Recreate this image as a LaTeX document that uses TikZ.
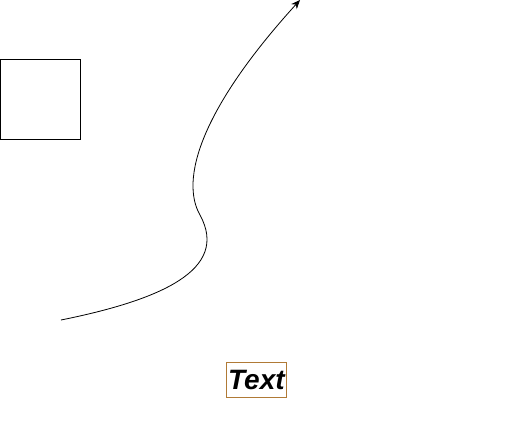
\documentclass[tikz,border=0pt]{standalone}
\usepackage{fontspec}
\setmainfont{Liberation Sans}
\usetikzlibrary{arrows.meta}
\definecolor{boxbrown}{HTML}{B07A36}
\begin{document}
\begin{tikzpicture}[x=1pt,y=-1pt,
  shapebox/.style={draw=black,line width=0.8pt,fill=white},
  textbox/.style={draw=boxbrown,line width=0.8pt,fill=white,inner sep=0pt,minimum width=60pt,minimum height=35pt},
  curveline/.style={draw=black,line width=0.8pt,-{Stealth[length=9pt,width=7.5pt]}}]
\useasboundingbox (0,0) rectangle (511,421);
\node[shapebox,minimum width=80pt,minimum height=80pt,inner sep=0pt,anchor=north west] (sq) at (0,59) {};
\node[textbox,anchor=north west] (txt) at (226,362) {\fontsize{28}{30}\selectfont\bfseries\itshape Text};
\coordinate (cs) at (61,320);
\coordinate (cm) at (200,215);
\coordinate (ce) at (300,0);
\draw[curveline] (cs) .. controls (160,300) and (230,270) .. (cm) .. controls (180,180) and (200,110) .. (ce);
\end{tikzpicture}
\end{document}
